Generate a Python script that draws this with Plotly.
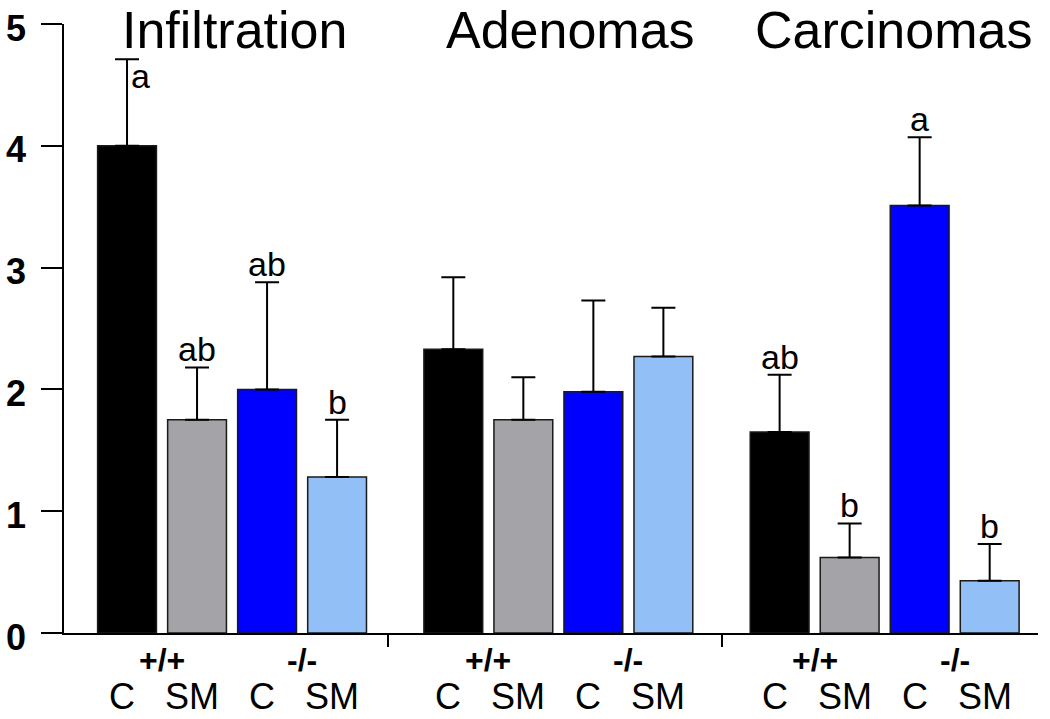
import plotly.graph_objects as go

# ---- data ----
groups = ["Infiltration", "Adenomas", "Carcinomas"]
genotypes = ["+/+", "-/-"]
treatments = ["C", "SM"]
series_names = ["+/+ C", "+/+ SM", "-/- C", "-/- SM"]
colors = ["#000000", "#A4A3A8", "#0000FF", "#92BFF6"]

# values per series, across groups (Infiltration, Adenomas, Carcinomas)
val_wt_c = [4.0, 2.33, 1.65]
val_wt_sm = [1.75, 1.75, 0.62]
val_ko_c = [2.0, 1.98, 3.51]
val_ko_sm = [1.28, 2.27, 0.43]

err_wt_c = [0.71, 0.59, 0.47]
err_wt_sm = [0.43, 0.35, 0.28]
err_ko_c = [0.88, 0.75, 0.56]
err_ko_sm = [0.47, 0.40, 0.30]

let_wt_c = ["a", "", "ab"]
let_wt_sm = ["ab", "", "b"]
let_ko_c = ["ab", "", "a"]
let_ko_sm = ["b", "", "b"]

y_ticks = [0, 1, 2, 3, 4, 5]

values = [val_wt_c, val_wt_sm, val_ko_c, val_ko_sm]
errors = [err_wt_c, err_wt_sm, err_ko_c, err_ko_sm]
letters = [let_wt_c, let_wt_sm, let_ko_c, let_ko_sm]

# ---- layout helpers ----
group_step = 4.66
title_centers = [1.54, 1.68, 1.62]  # title centre offset within each group (layout)
def xpos(g, i):
    return g * group_step + i

fig = go.Figure()
for i, name in enumerate(series_names):
    xs = [xpos(g, i) for g in range(len(groups))]
    fig.add_trace(go.Bar(
        x=xs, y=values[i], name=name, width=0.84,
        marker=dict(color=colors[i], line=dict(color="#1a1a1a", width=1.5)),
        error_y=dict(type="data", symmetric=False, array=errors[i],
                     arrayminus=[0] * len(groups), color="black",
                     thickness=2, width=12),
        showlegend=False,
    ))

annotations = []
font_main = "Liberation Sans, Arial, sans-serif"

# significance letters
for i in range(len(series_names)):
    for g in range(len(groups)):
        t = letters[i][g]
        if not t:
            continue
        top = values[i][g] + errors[i][g]
        if g == 0 and i == 0:
            annotations.append(dict(x=xpos(g, i), y=top, xref="x", yref="y",
                                    text=t, showarrow=False, xanchor="left",
                                    yanchor="top", xshift=2, yshift=4,
                                    font=dict(size=34, color="black", family=font_main)))
        else:
            annotations.append(dict(x=xpos(g, i), y=top, xref="x", yref="y",
                                    text=t, showarrow=False, xanchor="center",
                                    yanchor="bottom", yshift=-3,
                                    font=dict(size=34, color="black", family=font_main)))

# group titles
for g, name in enumerate(groups):
    annotations.append(dict(x=xpos(g, title_centers[g]), y=0.99, xref="x", yref="paper",
                            text=name, showarrow=False, xanchor="center",
                            yanchor="middle",
                            font=dict(size=52, color="black", family=font_main)))

# genotype and treatment labels
for g in range(len(groups)):
    for k, geno in enumerate(genotypes):
        annotations.append(dict(x=xpos(g, 2 * k + 0.5), y=-0.044, xref="x", yref="paper",
                                text="<b>" + geno + "</b>", showarrow=False,
                                xanchor="center", yanchor="middle",
                                font=dict(size=32, color="black", family=font_main)))
        for j, tr in enumerate(treatments):
            annotations.append(dict(x=xpos(g, 2 * k + j), y=-0.105, xref="x", yref="paper",
                                    text=tr, showarrow=False, xanchor="center",
                                    yanchor="middle", xshift=-5,
                                    font=dict(size=36, color="black", family=font_main)))

sep_ticks = [3.73, 8.49]

fig.update_layout(
    width=1050, height=719,
    margin=dict(l=64, r=12, t=24, b=86),
    paper_bgcolor="white", plot_bgcolor="white",
    barmode="overlay",
    annotations=annotations,
    font=dict(family=font_main, color="black"),
    xaxis=dict(range=[-0.9, 13.01], showgrid=False, zeroline=False,
               automargin=False,
               showline=True, linecolor="black", linewidth=1.5,
               tickvals=sep_ticks, ticktext=["", ""], ticks="outside",
               ticklen=12, tickwidth=1.5, tickcolor="black"),
    yaxis=dict(range=[0, 5], showgrid=False, zeroline=False,
               automargin=False,
               showline=True, linecolor="black", linewidth=1.5,
               tickvals=y_ticks, ticks="outside", ticklen=21,
               tickwidth=1.5, tickcolor="black", ticklabelstandoff=8,
               ticklabelshift=4,
               tickfont=dict(size=36, color="black",
                             family="Liberation Sans, Arial, sans-serif",
                             weight="bold")),
)

fig.write_html("out.html", config={"displayModeBar": False},
               post_script="document.body.style.margin='0';document.body.style.overflow='hidden';")
